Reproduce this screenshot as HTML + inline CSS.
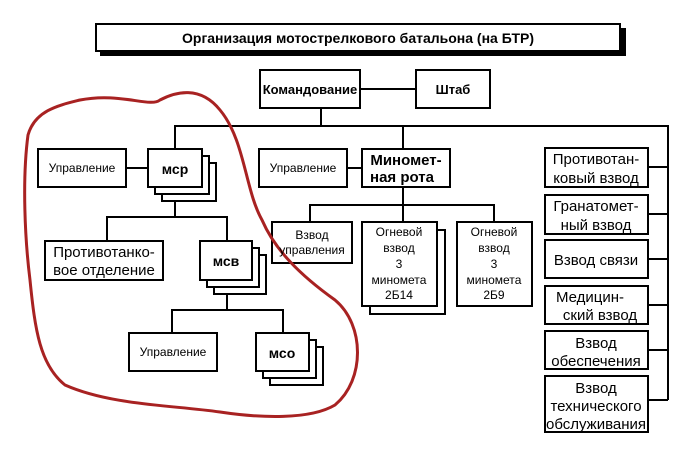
<!DOCTYPE html>
<html><head><meta charset="utf-8"><style>
body{margin:0;background:#fff;width:700px;height:448px;overflow:hidden}
svg text{font-family:"Liberation Sans","DejaVu Sans",sans-serif;fill:#000}
</style></head><body>
<svg width="700" height="448" viewBox="0 0 700 448" xmlns="http://www.w3.org/2000/svg">
<g stroke="#000" stroke-width="2" fill="#fff">
<rect x="101" y="29" width="524" height="26" fill="#000"/>
<rect x="96" y="24" width="524" height="27"/>
<!-- top -->
<rect x="260" y="70" width="100" height="38"/>
<rect x="416" y="70" width="74" height="38"/>
<line x1="360" y1="89" x2="416" y2="89"/>
<line x1="321" y1="108" x2="321" y2="126"/>
<polyline points="175,149 175,126 668,126 668,400" fill="none"/>
<line x1="403" y1="126" x2="403" y2="149"/>
<!-- left -->
<rect x="38" y="149" width="88" height="38"/>
<line x1="126" y1="168" x2="148" y2="168"/>
<rect x="162" y="163" width="54" height="38"/>
<rect x="155" y="156" width="54" height="38"/>
<rect x="148" y="149" width="54" height="38"/>
<polyline points="175,201 175,217" fill="none"/>
<polyline points="107,241 107,217 227,217 227,241" fill="none"/>
<rect x="45" y="241" width="118" height="39"/>
<rect x="214" y="255" width="52" height="39"/>
<rect x="207" y="248" width="52" height="39"/>
<rect x="200" y="241" width="52" height="39"/>
<line x1="227" y1="294" x2="227" y2="310"/>
<polyline points="172,333 172,310 283,310 283,333" fill="none"/>
<rect x="129" y="333" width="88" height="38"/>
<rect x="270" y="347" width="53" height="38"/>
<rect x="263" y="340" width="53" height="38"/>
<rect x="256" y="333" width="53" height="38"/>
<!-- middle -->
<rect x="259" y="149" width="88" height="38"/>
<line x1="347" y1="168" x2="362" y2="168"/>
<rect x="362" y="149" width="88" height="38"/>
<line x1="403" y1="187" x2="403" y2="222"/>
<polyline points="310,222 310,205 494,205 494,222" fill="none"/>
<rect x="272" y="222" width="80" height="41"/>
<rect x="370" y="230" width="75" height="84"/>
<rect x="362" y="222" width="75" height="84"/>
<rect x="457" y="222" width="75" height="84"/>
<!-- right -->
<rect x="545" y="148" width="103" height="39"/>
<rect x="545" y="195" width="103" height="39"/>
<rect x="545" y="240" width="103" height="38"/>
<rect x="545" y="286" width="103" height="38"/>
<rect x="545" y="331" width="103" height="38"/>
<rect x="545" y="376" width="103" height="56"/>
<line x1="648" y1="167" x2="668" y2="167"/>
<line x1="648" y1="214" x2="668" y2="214"/>
<line x1="648" y1="259" x2="668" y2="259"/>
<line x1="648" y1="305" x2="668" y2="305"/>
<line x1="648" y1="350" x2="668" y2="350"/>
<line x1="648" y1="400" x2="668" y2="400"/>
</g>
<path d="M28,135 C35,110 60,105 80,100 C120,92 150,108 160,100 C175,92 200,85 220,110 C245,140 245,190 262,220 C275,250 300,275 335,300 C365,325 365,380 335,405 C310,420 260,418 220,412 C170,405 110,405 65,385 C40,365 35,330 30,280 C25,240 22,180 28,135 Z" fill="none" stroke="#a82222" stroke-width="3"/>
<g font-size="13" font-weight="bold" text-anchor="middle">
<text x="358" y="43" font-size="14">Организация мотострелкового батальона (на БТР)</text>
<text x="310" y="94">Командование</text>
<text x="453" y="94">Штаб</text>
<text x="175" y="174" font-size="14">мср</text>
<text x="226" y="266" font-size="14">мсв</text>
<text x="282" y="358" font-size="14">мсо</text>
<text x="406" y="165" font-size="15">Миномет-</text>
<text x="402" y="182" font-size="15">ная рота</text>
</g>
<g font-size="12" text-anchor="middle">
<text x="82" y="172">Управление</text>
<text x="303" y="172">Управление</text>
<text x="173" y="356">Управление</text>
<text x="104" y="257" font-size="15">Противотанко-</text>
<text x="104" y="275" font-size="15">вое отделение</text>
<text x="312" y="239">Взвод</text>
<text x="312" y="254">управления</text>
<text x="399" y="236">Огневой</text><text x="399" y="252">взвод</text><text x="399" y="268">3</text><text x="399" y="284">минометa</text><text x="399" y="299">2Б14</text>
<text x="494" y="236">Огневой</text><text x="494" y="252">взвод</text><text x="494" y="268">3</text><text x="494" y="284">минометa</text><text x="494" y="299">2Б9</text>
</g>
<g font-size="15" text-anchor="middle">
<text x="596" y="164">Противотан-</text><text x="596" y="183">ковый взвод</text>
<text x="596" y="211">Гранатомет-</text><text x="596" y="230">ный взвод</text>
<text x="596" y="265">Взвод связи</text>
<text x="590" y="302">Медицин-</text><text x="600" y="320">ский взвод</text>
<text x="596" y="348">Взвод</text><text x="596" y="366">обеспечения</text>
<text x="596" y="393">Взвод</text><text x="596" y="411">технического</text><text x="596" y="429">обслуживания</text>
</g>
</svg>
</body></html>
